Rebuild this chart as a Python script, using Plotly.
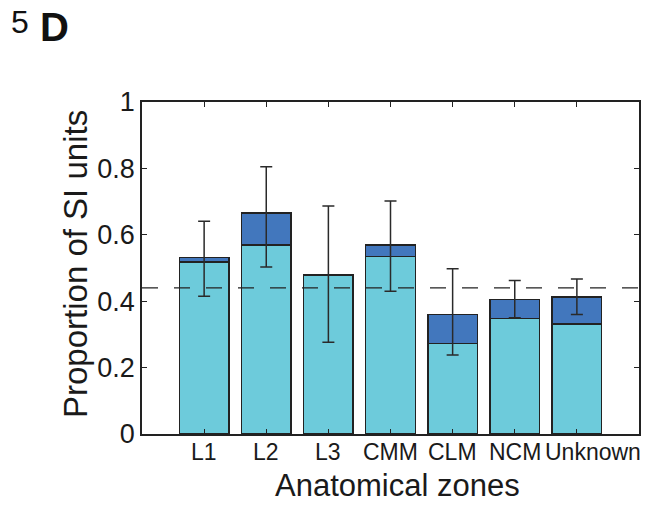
import plotly.graph_objects as go

# ---- data ----
categories = ["L1", "L2", "L3", "CMM", "CLM", "NCM", "Unknown"]
light_vals = [0.518, 0.570, 0.479, 0.535, 0.273, 0.348, 0.331]
total_vals = [0.532, 0.666, 0.479, 0.570, 0.360, 0.405, 0.413]
err_upper = [0.641, 0.805, 0.687, 0.702, 0.498, 0.462, 0.467]
err_lower = [0.415, 0.503, 0.276, 0.430, 0.238, 0.350, 0.360]
baseline = 0.44
y_ticks = [0, 0.2, 0.4, 0.6, 0.8, 1]
y_tick_text = ["0", "0.2", "0.4", "0.6", "0.8", "1"]

dark_vals = [t - l for t, l in zip(total_vals, light_vals)]
plus = [u - t for u, t in zip(err_upper, total_vals)]
minus = [t - l for t, l in zip(total_vals, err_lower)]

LIGHT = "#6dcbdb"
DARK = "#4277bd"
EDGE = "#222222"
TXT = "#1a1a1a"

fig = go.Figure()
fig.add_trace(go.Bar(x=categories, y=light_vals, marker=dict(color=LIGHT, line=dict(color=EDGE, width=1.5)),
                     width=0.8, showlegend=False))
fig.add_trace(go.Bar(x=categories, y=dark_vals, marker=dict(color=DARK, line=dict(color=EDGE, width=1.5)),
                     width=0.8, showlegend=False))
fig.add_trace(go.Scatter(x=categories, y=total_vals, mode="markers", marker=dict(size=0.1, color="rgba(0,0,0,0)"),
                         error_y=dict(type="data", symmetric=False, array=plus, arrayminus=minus,
                                      color="#2a2a2a", thickness=1.5, width=6),
                         showlegend=False))

fig.add_shape(type="line", xref="paper", yref="y", x0=0, x1=1, y0=baseline, y1=baseline,
              line=dict(color="#222222", width=1.3, dash="16px,16px"), layer="above")

# category labels as annotations (the last one sits shifted right, as in the reference)
label_shift = [0, 0, 0, 0, 0, 0, 16]
cat_annotations = [
    dict(text=c, x=c, xref="x", y=0, yref="paper", yanchor="top", xanchor="center",
         yshift=-3, xshift=s, showarrow=False, font=dict(size=23, color=TXT))
    for c, s in zip(categories, label_shift)
]

fig.update_layout(
    width=645, height=505,
    barmode="stack",
    plot_bgcolor="white", paper_bgcolor="white",
    margin=dict(l=142, r=6, t=102, b=71, autoexpand=False),
    font=dict(family="Liberation Sans, Arial, sans-serif", color=TXT),
    xaxis=dict(range=[-1, 7], showline=True, linecolor="#222", linewidth=1.5, mirror="ticks",
               ticks="inside", ticklen=5, tickwidth=1.2, tickcolor="#222",
               showticklabels=False, automargin=False,
               showgrid=False, zeroline=False, fixedrange=True),
    yaxis=dict(range=[0, 1], showline=True, linecolor="#222", linewidth=1.5, mirror="ticks",
               ticks="inside", ticklen=5, tickwidth=1.2, tickcolor="#222",
               tickvals=y_ticks, ticktext=y_tick_text, automargin=False,
               tickfont=dict(size=27, color=TXT),
               showgrid=False, zeroline=False, fixedrange=True),
    annotations=cat_annotations + [
        dict(text="Proportion of SI units", xref="paper", yref="paper", x=-0.1348, y=0.512,
             textangle=-90, showarrow=False, font=dict(size=33, color=TXT),
             xanchor="center", yanchor="middle"),
        dict(text="Anatomical zones", xref="paper", yref="paper", x=0.515, y=-0.2138,
             showarrow=False, font=dict(size=31, color=TXT), xanchor="center", yanchor="bottom"),
        dict(text="5", xref="paper", yref="paper", x=-0.2445, y=1.241,
             showarrow=False, font=dict(size=32, color="#111"), xanchor="center", yanchor="middle"),
        dict(text="<b>D</b>", xref="paper", yref="paper", x=-0.177, y=1.227,
             showarrow=False, font=dict(size=40, color="#111"), xanchor="center", yanchor="middle"),
    ],
)

fig.write_html("out.html")
